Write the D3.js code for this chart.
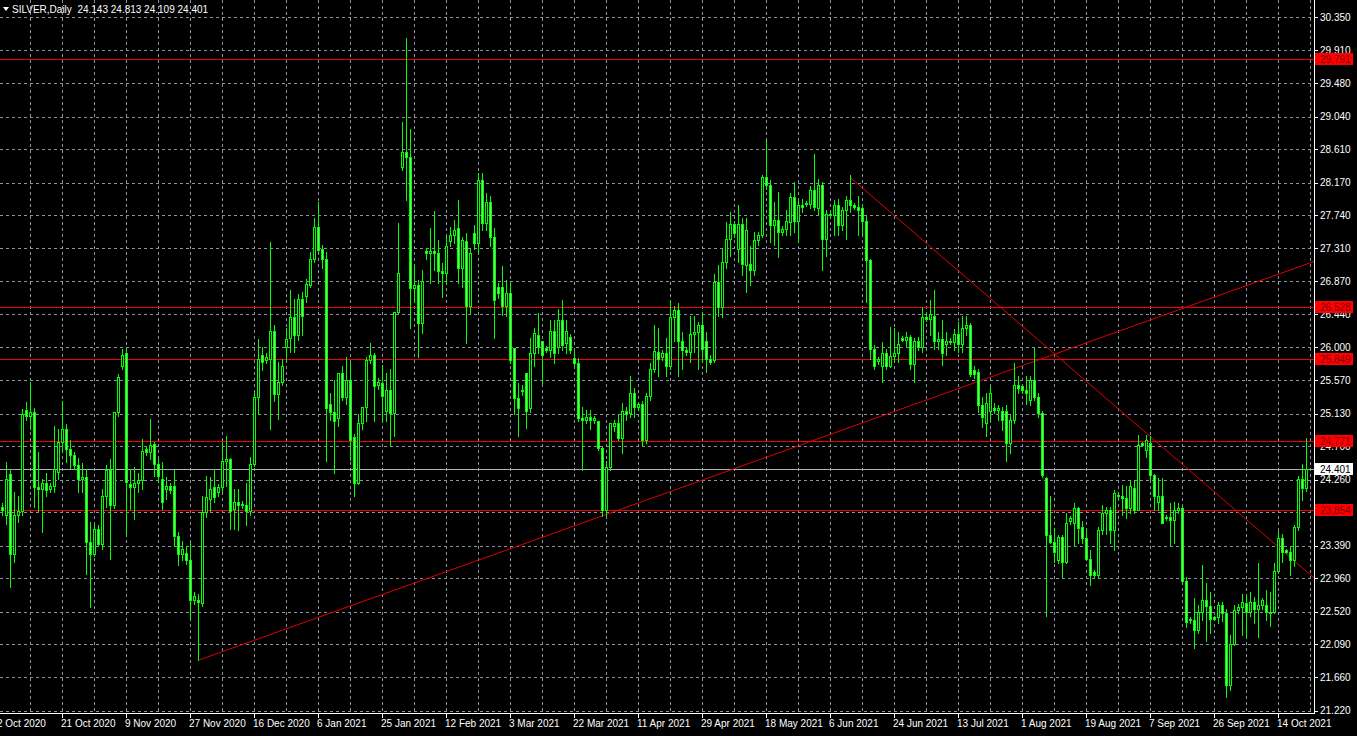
<!DOCTYPE html>
<html><head><meta charset="utf-8">
<script src="https://cdn.jsdelivr.net/npm/d3@7/dist/d3.min.js"></script>
<style>
body{margin:0;background:#000;overflow:hidden}
text{font-family:"Liberation Sans",Arial,sans-serif;font-size:10px}
</style>
</head><body>
<svg id="c" width="1357" height="736"></svg>
<script>
const symbolTitle = "SILVER,Daily";
const lastOHLC = ["24.143","24.813","24.109","24.401"];
const priceTicks = [30.350,29.910,29.480,29.040,28.610,28.170,27.740,27.310,26.870,26.440,26.000,25.570,25.130,24.700,24.260,23.830,23.390,22.960,22.520,22.090,21.660,21.220];
const dateTickLabels = ["2 Oct 2020","21 Oct 2020","9 Nov 2020","27 Nov 2020","16 Dec 2020","6 Jan 2021","25 Jan 2021","12 Feb 2021","3 Mar 2021","22 Mar 2021","11 Apr 2021","29 Apr 2021","18 May 2021","6 Jun 2021","24 Jun 2021","13 Jul 2021","1 Aug 2021","19 Aug 2021","7 Sep 2021","26 Sep 2021","14 Oct 2021"];
const dateTickBars = [0,16,32,48,64,80,96,112,128,144,160,176,192,208,224,240,256,272,288,304,320];
const levelPrices = [29.791,26.528,25.849,24.771,23.854];
const bidPrice = 24.401;
// trend lines: two anchor points [barIndex, price], extended to the right edge
const trendUp = [[50,21.88],[152,23.80]];
const trendDown = [[213,28.24],[288,24.83]];
// daily candles [open, high, low, close], bar 0 = 2 Oct 2020
const ohlc = [
[23.86,24.00,23.67,23.92],[23.90,23.95,23.80,23.86],[23.79,24.49,23.67,24.27],[24.34,24.40,22.84,23.28],[23.28,24.09,23.17,23.79],
[23.79,24.05,23.70,23.85],[23.85,25.19,23.79,25.13],[25.17,25.28,25.05,25.10],[25.10,25.54,24.93,25.15],[25.15,25.20,23.90,24.16],
[24.16,24.62,23.85,24.14],[24.14,24.27,23.57,24.22],[24.22,24.35,24.05,24.12],[24.14,24.22,24.10,24.18],[24.18,24.97,24.09,24.40],
[24.36,24.93,24.27,24.75],[24.75,25.30,24.62,24.93],[24.93,24.99,24.49,24.66],[24.66,24.78,24.40,24.58],[24.58,24.62,24.40,24.45],
[24.45,24.55,24.10,24.27],[24.27,24.48,24.10,24.29],[24.29,24.40,23.02,23.44],[23.44,23.70,22.58,23.28],[23.28,23.66,23.26,23.61],
[23.61,23.66,23.38,23.41],[23.41,24.14,23.35,24.05],[24.05,24.45,23.90,24.38],[24.38,24.53,23.22,23.92],[23.92,25.15,23.88,25.15],
[25.15,25.65,25.10,25.61],[25.76,25.98,25.72,25.90],[25.92,25.98,23.55,24.23],[24.20,24.40,23.87,24.16],[24.16,24.42,23.74,24.22],
[24.22,24.35,24.10,24.25],[24.25,24.80,24.14,24.64],[24.66,24.70,24.58,24.62],[24.62,25.06,24.53,24.71],[24.73,24.75,24.31,24.47],
[24.47,24.53,24.23,24.31],[24.27,24.49,23.87,23.96],[24.14,24.30,24.00,24.18],[24.18,24.22,24.08,24.12],[24.18,24.38,23.39,23.52],
[23.52,23.57,23.13,23.28],[23.28,23.45,23.20,23.35],[23.30,23.38,23.15,23.20],[23.20,23.44,22.43,22.67],[22.67,22.78,22.62,22.73],
[22.67,22.75,21.88,22.65],[22.63,24.05,22.60,23.83],[23.83,24.31,23.77,24.03],[24.01,24.29,23.83,24.14],[24.16,24.40,23.96,24.03],
[24.10,24.20,24.05,24.16],[24.16,24.75,24.09,24.51],[24.51,24.84,24.18,24.53],[24.53,24.55,23.61,23.85],[23.87,24.14,23.61,23.96],
[23.96,24.14,23.59,23.92],[23.94,23.98,23.88,23.92],[23.92,24.22,23.66,23.85],[23.85,24.56,23.79,24.47],[24.47,25.40,24.44,25.35],
[25.35,26.11,25.13,25.85],[25.90,26.00,25.70,25.81],[25.83,25.92,25.80,25.87],[25.85,27.39,24.93,26.22],[26.22,26.30,25.30,25.39],
[25.39,25.81,25.06,25.54],[25.54,25.85,25.50,25.76],[26.00,26.25,25.85,26.11],[26.12,26.75,25.94,26.40],[26.40,26.64,25.94,26.16],
[26.16,26.70,26.10,26.64],[26.64,26.73,26.16,26.42],[26.68,26.90,26.60,26.84],[26.82,27.26,26.80,27.17],[27.17,27.70,27.12,27.59],
[27.59,27.92,27.26,27.28],[27.30,27.35,27.05,27.17],[27.17,27.25,24.50,25.20],[25.25,25.40,25.05,25.15],[25.15,25.57,24.35,25.03],
[25.07,25.66,24.96,25.66],[25.66,25.75,25.31,25.35],[25.35,25.88,25.25,25.57],[25.57,25.79,24.52,24.78],[24.82,24.86,24.04,24.22],
[24.22,25.13,24.20,25.00],[25.00,25.22,24.92,25.22],[25.22,25.88,25.03,25.84],[25.84,26.06,25.79,25.90],[25.90,25.92,25.03,25.49],
[25.50,25.60,25.45,25.55],[25.53,25.77,25.03,25.36],[25.16,25.66,25.03,25.44],[25.44,25.71,24.70,25.14],[25.14,26.47,24.83,26.47],
[26.47,27.64,26.45,26.98],[28.37,28.97,28.33,28.57],[28.57,30.07,27.94,28.51],[28.51,28.87,26.25,26.78],[26.78,27.09,26.60,26.82],
[26.82,26.89,25.88,26.32],[26.32,27.02,26.19,26.87],[27.27,27.31,27.16,27.24],[27.24,27.57,26.85,27.27],[27.27,27.79,27.02,27.24],
[27.24,27.42,26.85,27.00],[27.00,27.11,26.67,26.98],[26.98,27.46,26.85,27.33],[27.40,27.59,27.33,27.48],[27.48,27.68,27.37,27.55],
[27.57,27.94,26.85,27.05],[27.05,27.46,26.80,27.42],[27.40,27.50,26.06,26.54],[26.54,27.30,26.45,27.24],[27.50,27.61,27.29,27.38],
[27.38,28.30,27.24,28.21],[28.21,28.30,27.55,27.64],[27.64,28.03,27.55,27.92],[27.92,27.99,27.33,27.46],[27.46,27.57,26.12,26.63],
[26.80,26.85,26.65,26.72],[26.80,27.07,26.43,26.54],[26.54,26.89,26.41,26.72],[26.72,26.85,25.79,25.84],[25.99,25.99,25.13,25.33],
[25.33,25.53,24.83,25.20],[25.44,25.50,25.38,25.42],[25.66,25.66,24.94,25.16],[25.20,26.12,25.15,25.93],[25.93,26.25,25.75,26.19],
[26.17,26.45,25.93,26.01],[26.08,26.08,25.53,25.90],[25.99,26.02,25.94,25.97],[25.97,26.36,25.88,26.21],[26.21,26.36,25.79,25.93],
[26.01,26.50,25.93,26.36],[26.36,26.63,25.97,26.03],[26.06,26.36,25.93,26.21],[26.14,26.18,25.93,25.97],[25.86,25.95,25.75,25.79],
[25.79,25.86,25.03,25.07],[25.07,25.22,24.39,25.05],[25.05,25.18,25.00,25.09],[25.09,25.18,24.92,25.05],[25.05,25.10,25.00,25.07],
[25.03,25.03,24.65,24.67],[24.67,24.70,23.78,23.86],[23.86,24.50,23.80,24.43],[24.43,25.00,24.39,25.00],[24.96,25.05,24.90,25.00],
[25.00,25.13,24.78,24.81],[24.81,25.27,24.61,25.16],[25.16,25.22,25.05,25.12],[25.14,25.62,25.09,25.40],[25.40,25.47,25.09,25.22],
[25.22,25.28,25.18,25.25],[25.25,25.30,24.70,24.78],[24.78,25.40,24.74,25.36],[25.36,25.79,25.31,25.71],[25.71,26.30,25.68,25.95],
[25.94,26.25,25.63,25.85],[25.87,25.96,25.83,25.92],[25.92,26.12,25.63,25.76],[25.76,26.62,25.72,26.40],[26.40,26.55,26.09,26.49],
[26.49,26.58,25.63,26.09],[26.09,26.20,25.72,25.96],[25.96,26.00,25.90,25.94],[25.94,26.42,25.81,26.18],[26.18,26.42,25.94,26.20],
[26.20,26.33,25.72,26.29],[26.29,26.47,25.81,25.98],[26.09,26.20,25.68,25.85],[25.85,25.90,25.78,25.81],[25.83,26.97,25.81,26.86],
[26.86,27.08,26.42,26.53],[26.53,27.30,26.40,27.13],[27.13,27.65,27.05,27.43],[27.43,27.78,27.21,27.63],[27.63,27.66,27.45,27.50],
[27.30,27.87,27.13,27.63],[27.63,27.70,26.95,27.10],[27.08,27.70,26.73,27.54],[27.10,27.34,26.82,27.02],[27.02,27.52,26.95,27.41],
[27.41,27.52,27.35,27.48],[27.48,28.27,27.46,28.25],[28.25,28.73,28.09,28.14],[28.14,28.20,27.39,27.61],[27.61,27.92,27.35,27.68],
[27.68,28.05,27.19,27.52],[27.52,27.60,27.48,27.56],[27.56,27.81,27.48,27.67],[27.65,28.03,27.48,27.98],[27.98,28.18,27.52,27.67],
[27.67,27.96,27.39,27.87],[27.87,27.95,27.78,27.85],[27.90,27.93,27.86,27.89],[27.89,28.12,27.83,28.07],[28.07,28.55,27.81,27.85],
[27.83,28.22,27.74,28.14],[28.14,28.18,27.02,27.43],[27.43,27.81,27.21,27.76],[27.76,27.78,27.72,27.74],[27.74,27.94,27.48,27.87],
[27.87,27.96,27.48,27.61],[27.61,27.85,27.55,27.81],[27.81,28.00,27.43,27.94],[27.94,28.27,27.78,27.87],[27.87,27.90,27.82,27.85],
[27.85,28.00,27.48,27.81],[27.83,27.89,27.48,27.67],[27.67,27.74,26.60,27.15],[27.15,27.17,25.85,25.98],[25.98,26.03,25.72,25.76],
[25.82,25.88,25.78,25.85],[25.76,26.07,25.55,25.92],[25.92,25.98,25.72,25.76],[25.76,26.27,25.74,25.89],[25.89,26.25,25.81,25.92],
[25.92,26.20,25.81,26.05],[26.12,26.15,26.08,26.10],[26.10,26.20,26.00,26.14],[26.14,26.16,25.72,25.78],[25.78,26.12,25.55,26.09],
[26.09,26.14,25.96,26.01],[26.01,26.53,25.94,26.40],[26.40,26.45,26.35,26.38],[26.38,26.62,26.16,26.44],[26.42,26.75,25.98,26.09],
[26.09,26.20,25.98,26.11],[26.11,26.36,25.77,25.92],[26.05,26.20,25.90,26.09],[26.09,26.12,26.04,26.07],[26.07,26.24,25.96,26.18],
[26.18,26.33,25.94,26.05],[26.05,26.42,25.94,26.25],[26.25,26.42,26.16,26.29],[26.29,26.32,25.63,25.65],[25.70,25.75,25.60,25.65],
[25.68,25.72,25.15,25.24],[25.24,25.35,24.95,25.08],[25.00,25.40,24.83,25.27],[25.16,25.49,25.05,25.40],[25.20,25.27,25.14,25.18],
[25.18,25.24,25.05,25.20],[25.16,25.22,24.91,25.05],[25.16,25.24,24.50,24.74],[24.74,25.11,24.61,25.05],[25.05,25.79,25.00,25.51],
[25.51,25.62,25.40,25.47],[25.49,25.52,25.40,25.44],[25.44,25.62,25.25,25.40],[25.31,25.62,25.24,25.57],[25.57,25.99,25.31,25.35],
[25.35,25.40,25.09,25.14],[25.14,25.16,24.30,24.32],[24.28,24.30,22.46,23.53],[23.53,24.04,23.42,23.44],[23.44,23.62,23.18,23.31],
[23.20,23.53,23.16,23.51],[23.51,23.53,22.98,23.18],[23.18,23.82,23.16,23.69],[23.72,23.78,23.68,23.75],[23.69,23.95,23.40,23.88],
[23.88,23.90,23.42,23.62],[23.64,23.71,23.42,23.49],[23.49,23.62,23.20,23.22],[23.22,23.33,22.87,23.00],[23.04,23.07,22.98,23.00],
[23.00,23.64,22.96,23.60],[23.60,23.93,23.55,23.82],[23.82,23.90,23.55,23.86],[23.86,23.90,23.42,23.60],[23.60,24.12,23.33,24.08],
[24.06,24.08,24.02,24.04],[24.04,24.19,23.80,24.02],[24.02,24.17,23.75,23.88],[23.88,24.26,23.82,24.17],[24.15,24.24,23.82,23.86],
[23.86,24.85,23.86,24.72],[24.74,24.76,24.70,24.72],[24.65,24.85,24.56,24.78],[24.74,24.83,24.26,24.32],[24.32,24.34,23.86,24.04],
[23.97,24.28,23.86,24.04],[24.04,24.28,23.69,23.69],[23.77,23.79,23.73,23.75],[23.77,23.95,23.40,23.73],[23.73,23.97,23.42,23.86],
[23.86,23.95,23.82,23.88],[23.88,23.90,22.90,22.92],[22.92,22.98,22.32,22.39],[22.43,22.45,22.37,22.41],[22.41,22.70,22.04,22.28],
[22.28,22.61,22.24,22.52],[22.52,23.14,22.41,22.68],[22.68,22.90,22.13,22.59],[22.59,22.78,22.24,22.43],[22.45,22.47,22.41,22.43],
[22.45,22.65,22.37,22.61],[22.61,22.65,22.40,22.50],[22.50,22.55,21.40,21.56],[21.56,22.21,21.49,22.10],[22.10,22.61,22.08,22.54],
[22.54,22.62,22.50,22.58],[22.58,22.76,22.21,22.65],[22.63,22.74,22.17,22.52],[22.52,22.78,22.46,22.65],[22.65,22.72,22.37,22.56],
[22.56,23.16,22.19,22.61],[22.61,22.70,22.56,22.67],[22.61,22.81,22.41,22.52],[22.52,22.78,22.33,22.50],[22.52,23.16,22.50,23.05],
[23.05,23.58,23.03,23.49],[23.49,23.55,23.18,23.31],[23.33,23.35,23.29,23.31],[23.31,23.38,23.00,23.20],[23.20,23.66,23.12,23.63],
[23.63,24.31,23.60,24.27],[24.27,24.47,23.99,24.143],[24.143,24.813,24.109,24.401]
];

const W = 1357, H = 736, plotR = 1314, plotB = 713;
const svg = d3.select("#c");
svg.append("rect").attr("width", W).attr("height", H).attr("fill", "#000");

const x = d3.scaleLinear().domain([0, 329]).range([-2, 1314]);
const y = d3.scaleLinear().domain([21.22, 30.35]).range([710.5, 17]);
const px = v => Math.round(x(v)) + 0.5;
const py = v => Math.round(y(v)) + 0.5;

const gridColor = "#8a949e";
const plot = svg.append("g");

// horizontal grid
plot.selectAll("line.hg").data(priceTicks).join("line")
  .attr("x1", 0).attr("x2", plotR).attr("y1", d => py(d)).attr("y2", d => py(d))
  .attr("stroke", gridColor).attr("stroke-width", 1).attr("stroke-dasharray", "3,3");
// vertical grid (every 8 bars)
const vBars = d3.range(8, 329, 8);
plot.selectAll("line.vg").data(vBars).join("line")
  .attr("x1", d => px(d)).attr("x2", d => px(d)).attr("y1", 0).attr("y2", plotB)
  .attr("stroke", gridColor).attr("stroke-width", 1).attr("stroke-dasharray", "3,3");

// horizontal levels
const levelColor = "#f00000";
plot.selectAll("line.lv").data(levelPrices).join("line")
  .attr("x1", 0).attr("x2", plotR).attr("y1", d => py(d)).attr("y2", d => py(d))
  .attr("stroke", levelColor).attr("stroke-width", 1);
// bid line
plot.append("line").attr("x1", 0).attr("x2", plotR).attr("y1", py(bidPrice)).attr("y2", py(bidPrice))
  .attr("stroke", "#a8b0b8").attr("stroke-width", 1);

// trend lines (rays to the right edge)
function ray(pts) {
  const [a, b] = pts;
  const slope = (b[1] - a[1]) / (b[0] - a[0]);
  const endBar = x.invert(plotR);
  return [[x(a[0]), y(a[1])], [plotR, y(a[1] + slope * (endBar - a[0]))]];
}
[trendUp, trendDown].forEach(t => {
  const r = ray(t);
  plot.append("line").attr("x1", r[0][0]).attr("y1", r[0][1]).attr("x2", r[1][0]).attr("y2", r[1][1])
    .attr("stroke", "#e00000").attr("stroke-width", 1);
});

// candles
const green = "#00ff00";
const cg = plot.append("g");
cg.selectAll("line.wick").data(ohlc).join("line")
  .attr("x1", (d, i) => px(i)).attr("x2", (d, i) => px(i))
  .attr("y1", d => Math.round(y(d[1]))).attr("y2", d => Math.round(y(d[2])) + 1)
  .attr("stroke", green).attr("stroke-width", 1);
cg.selectAll("rect.body").data(ohlc).join("rect")
  .attr("x", (d, i) => px(i) - 1)
  .attr("y", d => py(Math.max(d[0], d[3])))
  .attr("width", 2)
  .attr("height", d => Math.max(0, py(Math.min(d[0], d[3])) - py(Math.max(d[0], d[3]))))
  .attr("fill", d => d[3] >= d[0] ? "#000" : "#6cff6c")
  .attr("stroke", green).attr("stroke-width", 1);

// frame
svg.append("line").attr("x1", plotR + 0.5).attr("x2", plotR + 0.5).attr("y1", 0).attr("y2", plotB + 1).attr("stroke", "#fff");
svg.append("line").attr("x1", 0).attr("x2", plotR + 1).attr("y1", plotB + 0.5).attr("y2", plotB + 0.5).attr("stroke", "#fff");

// price axis
const ax = svg.append("g");
ax.selectAll("line.pt").data(priceTicks).join("line")
  .attr("x1", plotR).attr("x2", plotR + 4).attr("y1", d => py(d)).attr("y2", d => py(d)).attr("stroke", "#fff");
ax.selectAll("text.pl").data(priceTicks).join("text")
  .attr("x", plotR + 6).attr("y", d => y(d)).attr("dy", "0.36em")
  .attr("fill", "#fff").text(d => d3.format(".3f")(d));

// level labels
function tag(p, bg, fg) {
  const yy = Math.round(y(p));
  ax.append("rect").attr("x", plotR + 1).attr("y", yy - 6).attr("width", 38).attr("height", 12).attr("fill", bg);
  ax.append("text").attr("x", plotR + 6).attr("y", yy).attr("dy", "0.36em").attr("fill", fg).text(d3.format(".3f")(p));
}
levelPrices.forEach(p => tag(p, "#ff0000", "#7a0000"));
tag(bidPrice, "#ffffff", "#000000");

// date axis
ax.selectAll("line.dt").data(dateTickBars).join("line")
  .attr("x1", d => px(d)).attr("x2", d => px(d)).attr("y1", plotB).attr("y2", plotB + 5).attr("stroke", "#fff");
ax.selectAll("text.dl").data(dateTickLabels).join("text")
  .attr("x", (d, i) => x(dateTickBars[i]) - 1).attr("y", 727)
  .attr("fill", "#fff").text(d => d);

// title
svg.append("path").attr("d", "M3,7 L9,7 L6,11 Z").attr("fill", "#fff");
svg.append("text").attr("x", 12).attr("y", 13).attr("fill", "#fff")
  .style("white-space", "pre")
  .text(symbolTitle + "  " + lastOHLC.join(" "));
</script>
</body></html>
